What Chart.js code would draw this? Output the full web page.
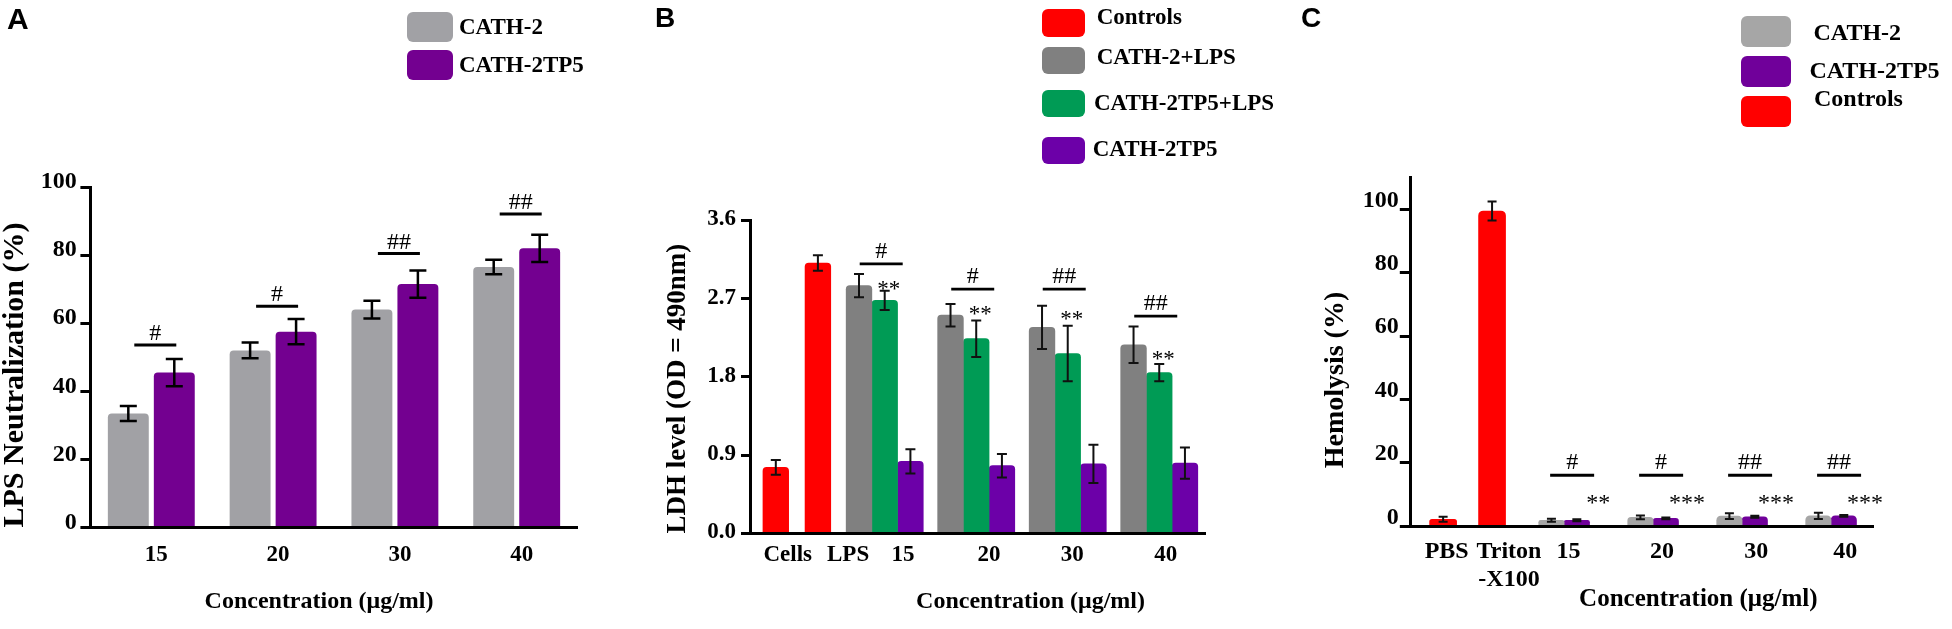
<!DOCTYPE html>
<html>
<head>
<meta charset="utf-8">
<title>LPS neutralization, LDH release and hemolysis</title>
<script src="https://cdn.jsdelivr.net/npm/chart.js@4.4.1/dist/chart.umd.min.js"></script>
<style>
  html, body { margin: 0; padding: 0; background: #ffffff; }
  #fig { position: relative; width: 1952px; height: 629px; overflow: hidden; background: #ffffff; }
  #fig canvas { position: absolute; top: 0; }
  .panel-letter { position: absolute; font-family: 'Liberation Sans', Arial, sans-serif; font-weight: bold; line-height: 1; color: #000; z-index: 2; }
  .leg-sw { position: absolute; border-radius: 6px; z-index: 2; }
  .leg-tx { position: absolute; font-family: 'Liberation Serif', 'Times New Roman', serif; font-weight: bold; line-height: 1; color: #000; white-space: pre; z-index: 2; }
</style>
</head>
<body>
<div id="fig">
  <canvas id="chartA" width="610" height="629" style="left:0px"></canvas>
  <canvas id="chartB" width="690" height="629" style="left:610px"></canvas>
  <canvas id="chartC" width="652" height="629" style="left:1300px"></canvas>
  <div class="panel-letter" style="left:7px;top:4px;font-size:30px">A</div>
  <div class="panel-letter" style="left:655px;top:4px;font-size:28px">B</div>
  <div class="panel-letter" style="left:1301px;top:4px;font-size:28px">C</div>
</div>
<script>
// ================= DATA =================
// ---- Panel A : LPS neutralization (%) ----
const aCategories = ['15', '20', '30', '40'];
const aSeries = ['CATH-2', 'CATH-2TP5'];
const aCath2 = [33.5, 52, 64, 76.5];
const aCath2Err = [2.2, 2.3, 2.6, 2.1];
const aCath2TP5 = [45.5, 57.5, 71.5, 82];
const aCath2TP5Err = [4, 3.7, 4, 4];
const aSigMarks = ['#', '#', '##', '##'];
const aSigLevels = [53.6, 65, 80.5, 92.1];
const aYTicks = [0, 20, 40, 60, 80, 100];

// ---- Panel B : LDH level (OD = 490nm) ----
const bCategories = ['Cells', 'LPS', '15', '20', '30', '40'];
const bSeries = ['Controls', 'CATH-2+LPS', 'CATH-2TP5+LPS', 'CATH-2TP5'];
const bControls = [0.76, 3.11, null, null, null, null];
const bControlsErr = [0.085, 0.09, null, null, null, null];
const bCath2LPS = [null, null, 2.85, 2.51, 2.37, 2.17];
const bCath2LPSErr = [null, null, 0.135, 0.13, 0.25, 0.21];
const bTP5LPS = [null, null, 2.68, 2.24, 2.07, 1.85];
const bTP5LPSErr = [null, null, 0.11, 0.21, 0.32, 0.10];
const bTP5 = [null, null, 0.83, 0.78, 0.80, 0.81];
const bTP5Err = [null, null, 0.14, 0.135, 0.22, 0.18];
const bSigMarks = [null, null, '#', '#', '##', '##'];
const bSigLevels = [null, null, 3.10, 2.81, 2.81, 2.50];
const bStarMarks = [null, null, '**', '**', '**', '**'];
const bStarLevels = [null, null, 2.86, 2.57, 2.51, 2.05];
const bYTicks = [0, 0.9, 1.8, 2.7, 3.6];

// ---- Panel C : Hemolysis (%) ----
const cCategories = ['PBS', ['Triton', '-X100'], '15', '20', '30', '40'];
const cSeries = ['CATH-2', 'CATH-2TP5', 'Controls'];
const cCath2 = [null, null, 1.9, 2.8, 3.2, 3.3];
const cCath2Err = [null, null, 0.5, 0.6, 0.9, 1.0];
const cCath2TP5 = [null, null, 1.9, 2.5, 3.0, 3.3];
const cCath2TP5Err = [null, null, 0.3, 0.3, 0.3, 0.3];
const cControls = [2.2, 99.5, null, null, null, null];
const cControlsErr = [0.8, 3.0, null, null, null, null];
const cSigMarks = [null, null, '#', '#', '##', '##'];
const cSigLevels = [null, null, 16.1, 16.1, 16.1, 16.1];
const cStarMarks = [null, null, '**', '***', '***', '***'];
const cStarLevels = [null, null, 8.7, 8.7, 8.7, 8.7];
const cYTicks = [0, 20, 40, 60, 80, 100];

// ================= LAYOUT / STYLE =================
// group positions along the (linear) x axes of panels B and C, in group units
const bGroupAt = [0.81, 1.27, 2, 3, 4, 5];
const bLabelAt = [0.94, 1.60, 2.20, 3.14, 4.05, 5.07];
const cGroupAt = [0.64, 1.19, 2, 3, 4, 5];
const cLabelAt = [0.68, 1.38, 2.05, 3.10, 4.16, 5.16];

const SERIF = "'Liberation Serif', 'Times New Roman', serif";
const COL = {
  aGray: '#A1A1A5', aPurple: '#730090',
  bRed: '#FF0000', bGray: '#808080', bGreen: '#009B55', bPurple: '#6C00A8',
  cGray: '#A6A6A6', cPurple: '#70009A', cRed: '#FF0000'
};

function font(size, lh) { return { family: SERIF, weight: 'bold', size: size, lineHeight: lh || 1.2 }; }

const errorBarPlugin = {
  id: 'errorBars',
  afterDatasetsDraw(chart, args, o) {
    const ctx = chart.ctx, ys = chart.scales.y;
    ctx.save();
    ctx.strokeStyle = o.color; ctx.lineWidth = o.width; ctx.lineCap = 'butt';
    chart.data.datasets.forEach((ds, di) => {
      if (!ds.errors) return;
      const meta = chart.getDatasetMeta(di);
      meta.data.forEach((bar, i) => {
        const raw = ds.data[i];
        const v = (raw !== null && typeof raw === 'object') ? raw.y : raw;
        const e = ds.errors[i];
        if (v === null || v === undefined || e === null || e === undefined) return;
        const x = bar.x, h = o.cap / 2;
        const yt = ys.getPixelForValue(v + e), yb = ys.getPixelForValue(v - e);
        ctx.beginPath();
        ctx.moveTo(x, yt); ctx.lineTo(x, yb);
        ctx.moveTo(x - h, yt); ctx.lineTo(x + h, yt);
        ctx.moveTo(x - h, yb); ctx.lineTo(x + h, yb);
        ctx.stroke();
      });
    });
    ctx.restore();
  }
};

const sigPlugin = {
  id: 'sigMarks',
  afterDatasetsDraw(chart, args, o) {
    const ctx = chart.ctx, xs = chart.scales.x, ys = chart.scales.y;
    ctx.save();
    ctx.fillStyle = '#000'; ctx.strokeStyle = '#000';
    ctx.textAlign = 'center'; ctx.textBaseline = 'alphabetic';
    o.marks.forEach((m, i) => {
      if (!m) return;
      const cx = xs.getPixelForValue(o.at[i]) + o.lineShift;
      const ly = ys.getPixelForValue(o.levels[i]);
      ctx.lineWidth = o.lineWidth;
      ctx.beginPath();
      ctx.moveTo(cx - o.lineLength / 2, ly); ctx.lineTo(cx + o.lineLength / 2, ly);
      ctx.stroke();
      ctx.font = o.hashSize + 'px ' + SERIF;
      ctx.fillText(m, cx, ly - o.hashGap + 0.34 * o.hashSize);
    });
    if (o.stars) {
      o.stars.forEach((s, i) => {
        if (!s) return;
        const cx = xs.getPixelForValue(o.at[i]) + o.starShift;
        const sy = ys.getPixelForValue(o.starLevels[i]);
        ctx.font = o.starSize + 'px ' + SERIF;
        ctx.fillText(s, cx, sy + 0.47 * o.starSize);
      });
    }
    ctx.restore();
  }
};

function yAxis(c) {
  return {
    type: 'linear', min: 0, max: c.max,
    afterBuildTicks: s => { s.ticks = c.ticks.map(v => ({ value: v })); },
    afterFit: s => { s.width = c.width; },
    border: { display: true, color: '#000', width: 3, z: 1 },
    grid: { display: true, drawOnChartArea: false, drawTicks: true, tickLength: c.tickLen, color: '#000', lineWidth: 3, tickWidth: 3 },
    ticks: { color: '#000', font: font(c.fontSize), padding: c.pad, labelOffset: c.labelOffset, callback: c.fmt || (v => String(v)) },
    title: { display: true, text: c.title, color: '#000', font: font(c.titleSize, 1), padding: { top: c.titlePad, bottom: 0 }, align: c.titleAlign }
  };
}

function xy(at, vals) { return at.map((x, i) => ({ x: x, y: vals[i] })); }

const common = { responsive: false, animation: false, events: [] };

// ---------------- Panel A ----------------
new Chart(document.getElementById('chartA'), {
  type: 'bar',
  data: {
    labels: aCategories,
    datasets: [
      { label: aSeries[0], data: aCath2, errors: aCath2Err, backgroundColor: COL.aGray },
      { label: aSeries[1], data: aCath2TP5, errors: aCath2TP5Err, backgroundColor: COL.aPurple }
    ]
  },
  options: Object.assign({}, common, {
    layout: { padding: { left: 0, top: 187, right: 32.4, bottom: 11.5 } },
    datasets: { bar: { categoryPercentage: 0.755, barPercentage: 0.89, borderRadius: { topLeft: 4, topRight: 4 }, borderSkipped: 'start', borderWidth: 0 } },
    plugins: {
      legend: { display: false }, tooltip: { enabled: false },
      errorBars: { color: '#000', width: 2.5, cap: 17 },
      sigMarks: { marks: aSigMarks, levels: aSigLevels, at: [0, 1, 2, 3], lineShift: 4, lineLength: 42, lineWidth: 3, hashSize: 24, hashGap: 13 }
    },
    scales: {
      x: {
        offset: true,
        afterFit: s => { s.height = 90; },
        border: { display: true, color: '#000', width: 3, z: 1 },
        grid: { display: false, drawTicks: false },
        ticks: { color: '#000', font: font(23), padding: 14.2, labelOffset: 5, autoSkip: false, maxRotation: 0, minRotation: 0 },
        title: { display: true, text: 'Concentration (μg/ml)     ', align: 'center', color: '#000', font: font(24, 1), padding: { top: 0, bottom: 3.8 } }
      },
      y: yAxis({ max: 100, ticks: aYTicks, width: 90.4, fontSize: 24, tickLen: 10, pad: 3.6, labelOffset: -5,
                 title: 'LPS Neutralization (%)', titleSize: 30, titlePad: 0, titleAlign: 'start' })
    }
  }),
  plugins: [errorBarPlugin, sigPlugin]
});

// ---------------- Panel B ----------------
const bBar = { barThickness: 25.7, skipNull: true, borderRadius: { topLeft: 4, topRight: 4 }, borderSkipped: 'start', borderWidth: 0 };
new Chart(document.getElementById('chartB'), {
  type: 'bar',
  data: {
    datasets: [
      Object.assign({ label: bSeries[0], data: xy(bGroupAt, bControls), errors: bControlsErr, backgroundColor: COL.bRed }, bBar),
      Object.assign({ label: bSeries[1], data: xy(bGroupAt, bCath2LPS), errors: bCath2LPSErr, backgroundColor: COL.bGray }, bBar),
      Object.assign({ label: bSeries[2], data: xy(bGroupAt, bTP5LPS), errors: bTP5LPSErr, backgroundColor: COL.bGreen }, bBar),
      Object.assign({ label: bSeries[3], data: xy(bGroupAt, bTP5), errors: bTP5Err, backgroundColor: COL.bPurple }, bBar)
    ]
  },
  options: Object.assign({}, common, {
    layout: { padding: { left: 0, top: 220.4, right: 95, bottom: 5.5 } },
    plugins: {
      legend: { display: false }, tooltip: { enabled: false },
      errorBars: { color: '#111', width: 2, cap: 10 },
      sigMarks: { marks: bSigMarks, levels: bSigLevels, at: bGroupAt, lineShift: -3.5, lineLength: 43, lineWidth: 2.8, hashSize: 24, hashGap: 14.5,
                  stars: bStarMarks, starLevels: bStarLevels, starShift: 4, starSize: 23 }
    },
    scales: {
      x: {
        type: 'linear', min: 0.528, max: 5.5, offset: false,
        afterBuildTicks: s => { s.ticks = bLabelAt.map(v => ({ value: v })); },
        afterFit: s => { s.height = 90; },
        border: { display: true, color: '#000', width: 3, z: 1 },
        grid: { display: false, drawTicks: false },
        ticks: { color: '#000', font: font(23), padding: 8.2, autoSkip: false, maxRotation: 0, minRotation: 0, callback: (v, i) => bCategories[i] },
        title: { display: true, text: 'Concentration (μg/ml)          ', align: 'end', color: '#000', font: font(24, 1), padding: { top: 0, bottom: 9.8 } }
      },
      y: yAxis({ max: 3.6, ticks: bYTicks, width: 140, fontSize: 23, tickLen: 9, pad: 5, labelOffset: -1, fmt: v => v.toFixed(1),
                 title: 'LDH level (OD = 490nm)', titleSize: 27, titlePad: 54.8, titleAlign: 'start' })
    }
  }),
  plugins: [errorBarPlugin, sigPlugin]
});

// ---------------- Panel C ----------------
const cBar = { skipNull: true, borderRadius: { topLeft: 5, topRight: 5 }, borderSkipped: 'start', borderWidth: 0 };
new Chart(document.getElementById('chartC'), {
  type: 'bar',
  data: {
    datasets: [
      Object.assign({ label: cSeries[2], data: xy(cGroupAt, cControls), errors: cControlsErr, backgroundColor: COL.cRed, barThickness: 27 }, cBar),
      Object.assign({ label: cSeries[0], data: xy(cGroupAt, cCath2), errors: cCath2Err, backgroundColor: COL.cGray, barThickness: 25.4 }, cBar),
      Object.assign({ label: cSeries[1], data: xy(cGroupAt, cCath2TP5), errors: cCath2TP5Err, backgroundColor: COL.cPurple, barThickness: 25.4 }, cBar)
    ]
  },
  options: Object.assign({}, common, {
    layout: { padding: { left: 0, top: 177.7, right: 78.2, bottom: 7.7 } },
    plugins: {
      legend: { display: false }, tooltip: { enabled: false },
      errorBars: { color: '#111', width: 2, cap: 9 },
      sigMarks: { marks: cSigMarks, levels: cSigLevels, at: cGroupAt, lineShift: 8, lineLength: 44, lineWidth: 3, hashSize: 24, hashGap: 14,
                  stars: cStarMarks, starLevels: cStarLevels, starShift: 34, starSize: 24 }
    },
    scales: {
      x: {
        type: 'linear', min: 0.27, max: 5.48, offset: false,
        afterBuildTicks: s => { s.ticks = cLabelAt.map(v => ({ value: v })); },
        afterFit: s => { s.height = 95; },
        border: { display: true, color: '#000', width: 3, z: 1 },
        grid: { display: false, drawTicks: false },
        ticks: { color: '#000', font: font(24, 1.17), padding: 11.2, autoSkip: false, maxRotation: 0, minRotation: 0, callback: (v, i) => cCategories[i] },
        title: { display: true, text: 'Concentration (μg/ml)         ', align: 'end', color: '#000', font: font(25, 1), padding: { top: 0, bottom: 9.1 } }
      },
      y: yAxis({ max: 110, ticks: cYTicks, width: 110.2, fontSize: 24, tickLen: 10.4, pad: 1, labelOffset: -9,
                 title: 'Hemolysis (%)        ', titleSize: 28, titlePad: 21.3, titleAlign: 'center' })
    }
  }),
  plugins: [errorBarPlugin, sigPlugin]
});

// ---------------- HTML legends ----------------
function addLegend(names, colors, lay) {
  const fig = document.getElementById('fig');
  names.forEach((name, i) => {
    const sw = document.createElement('div');
    sw.className = 'leg-sw';
    Object.assign(sw.style, { left: lay.x + 'px', top: lay.tops[i] + 'px', width: lay.w + 'px', height: lay.h + 'px', background: colors[i] });
    fig.appendChild(sw);
    const tx = document.createElement('div');
    tx.className = 'leg-tx';
    tx.textContent = name;
    Object.assign(tx.style, { left: lay.textX[i] + 'px', top: (lay.textCenters[i] - lay.font / 2) + 'px', fontSize: lay.font + 'px' });
    fig.appendChild(tx);
  });
}
addLegend(aSeries, [COL.aGray, COL.aPurple],
  { x: 407, w: 46, h: 30, tops: [12, 50], textX: [459, 459], textCenters: [26, 64], font: 23 });
addLegend(bSeries, [COL.bRed, COL.bGray, COL.bGreen, COL.bPurple],
  { x: 1041.7, w: 43.3, h: 27.4, tops: [9.3, 46.7, 90, 136.7], textX: [1096.7, 1096.7, 1094, 1092.7], textCenters: [16.7, 56, 102.7, 148.3], font: 23 });
addLegend(cSeries, [COL.cGray, COL.cPurple, COL.cRed],
  { x: 1740.7, w: 50, h: 30.5, tops: [16, 56, 96], textX: [1813.5, 1809.4, 1814], textCenters: [32, 70, 98.3], font: 24 });
</script>
</body>
</html>
